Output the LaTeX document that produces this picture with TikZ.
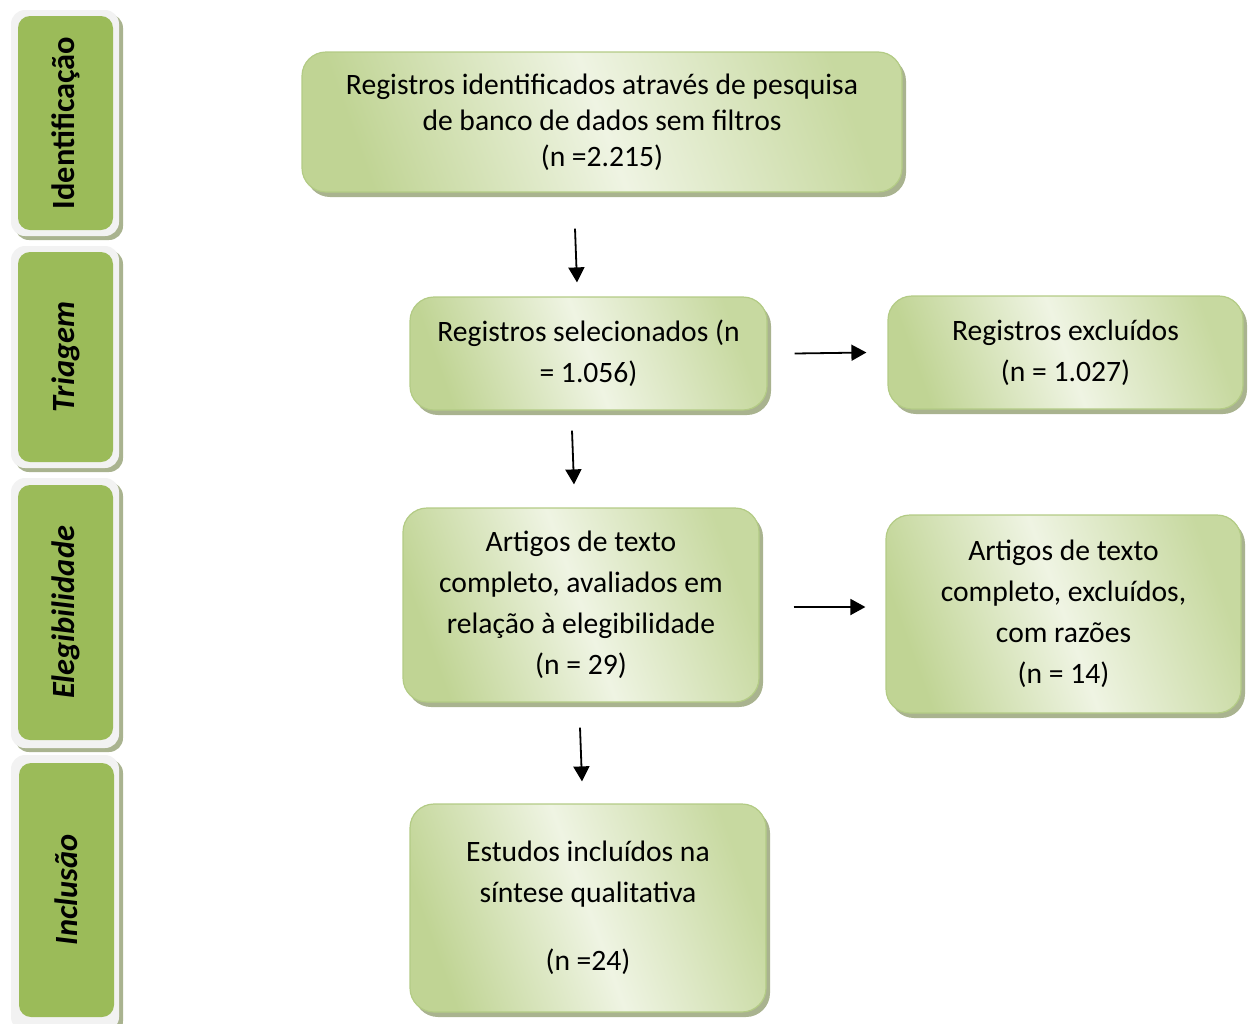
\documentclass[tikz,border=0pt]{standalone}
\usepackage{fontspec}
\setmainfont{Carlito}
\usetikzlibrary{arrows.meta,shadows}
\definecolor{stagegreen}{HTML}{9BBB59}
\definecolor{boxedge}{HTML}{B3CB85}
\definecolor{boxgreen}{HTML}{C0D494}
\definecolor{boxlight}{HTML}{EFF4E3}
\definecolor{shadowgray}{HTML}{A9B38F}
\definecolor{framewhite}{HTML}{F2F2F2}
\begin{document}
\begin{tikzpicture}[x=0.5pt,y=-0.5pt,
    box/.style={draw=boxedge,line width=0.6pt,rounded corners=12pt,
      left color=boxgreen,right color=boxgreen!85!boxlight,middle color=boxlight,shading angle=110,
      drop shadow={shadow xshift=2pt,shadow yshift=-2.5pt,fill=shadowgray,opacity=1},
      align=center,inner sep=0pt,font=\fontsize{14.8pt}{20.5pt}\selectfont},
    frame/.style={fill=framewhite,rounded corners=7pt,minimum width=54pt,
      drop shadow={shadow xshift=2pt,shadow yshift=-2pt,fill=shadowgray,opacity=1}},
    stage/.style={fill=stagegreen,rounded corners=6pt,minimum height=47.5pt,rotate=90,
      inner sep=0pt,font=\bfseries\fontsize{16.2pt}{16pt}\selectfont},
    flow/.style={-{Triangle[length=7.5pt,width=8pt]},line width=0.9pt}]
  \useasboundingbox (0,0) rectangle (1251,1023);
  %stages
  \node[frame,minimum height=113pt] (fid) at (65,123) {};
  \node[stage,minimum width=107pt] (sid) at (65.5,123) {Identificação};
  \node[frame,minimum height=111pt] (ftr) at (65,357) {};
  \node[stage,minimum width=105pt] (str) at (65.5,357) {\itshape Triagem};
  \node[frame,minimum height=135pt] (fel) at (65,613) {};
  \node[stage,minimum width=127.5pt] (sel) at (65.5,612.5) {\itshape Elegibilidade};
  \node[frame,minimum height=138pt] (fin) at (65,893) {};
  \node[stage,minimum width=127pt] (sin) at (66.5,890) {\itshape Inclusão};
  %boxes
  \node[box,minimum width=300pt,minimum height=70pt,font=\fontsize{14.8pt}{18pt}\selectfont]
    (top) at (602,122) {Registros identificados através de pesquisa\\de banco de dados sem filtros\\(n =2.215)};
  \node[box,minimum width=178.5pt,minimum height=56.5pt] (slc) at (588.5,353.5)
    {Registros selecionados (n\\= 1.056)};
  \node[box,minimum width=177.5pt,minimum height=56.5pt] (exc) at (1065.5,352.5)
    {Registros excluídos\\(n = 1.027)};
  \node[box,minimum width=178pt,minimum height=97pt] (art) at (581,605)
    {Artigos de texto\\completo, avaliados em\\relação à elegibilidade\\(n = 29)};
  \node[box,minimum width=177.5pt,minimum height=99pt] (exb) at (1063.5,614)
    {Artigos de texto\\completo, excluídos,\\com razões\\(n = 14)};
  \node[box,minimum width=178pt,minimum height=104pt] (est) at (588,908)
    {Estudos incluídos na\\síntese qualitativa\\[13.5pt](n =24)};
  %arrows
  \draw[flow] ([xshift=-13.5pt,yshift=-18pt]top.south) -- ([xshift=-5.75pt,yshift=7pt]slc.north);
  \draw[flow] ([xshift=-8.25pt,yshift=-10pt]slc.south) -- ([xshift=-3.5pt,yshift=11.5pt]art.north);
  \draw[flow] ([xshift=-0.5pt,yshift=-12.5pt]art.south) -- ([xshift=-3pt,yshift=11pt]est.north);
  \draw[flow] ([xshift=13.5pt]slc.east) -- ([xshift=-10.5pt]exc.west);
  \draw[flow] ([xshift=17pt,yshift=-1pt]art.east) -- ([xshift=-10pt,yshift=3.5pt]exb.west);
\end{tikzpicture}
\end{document}
